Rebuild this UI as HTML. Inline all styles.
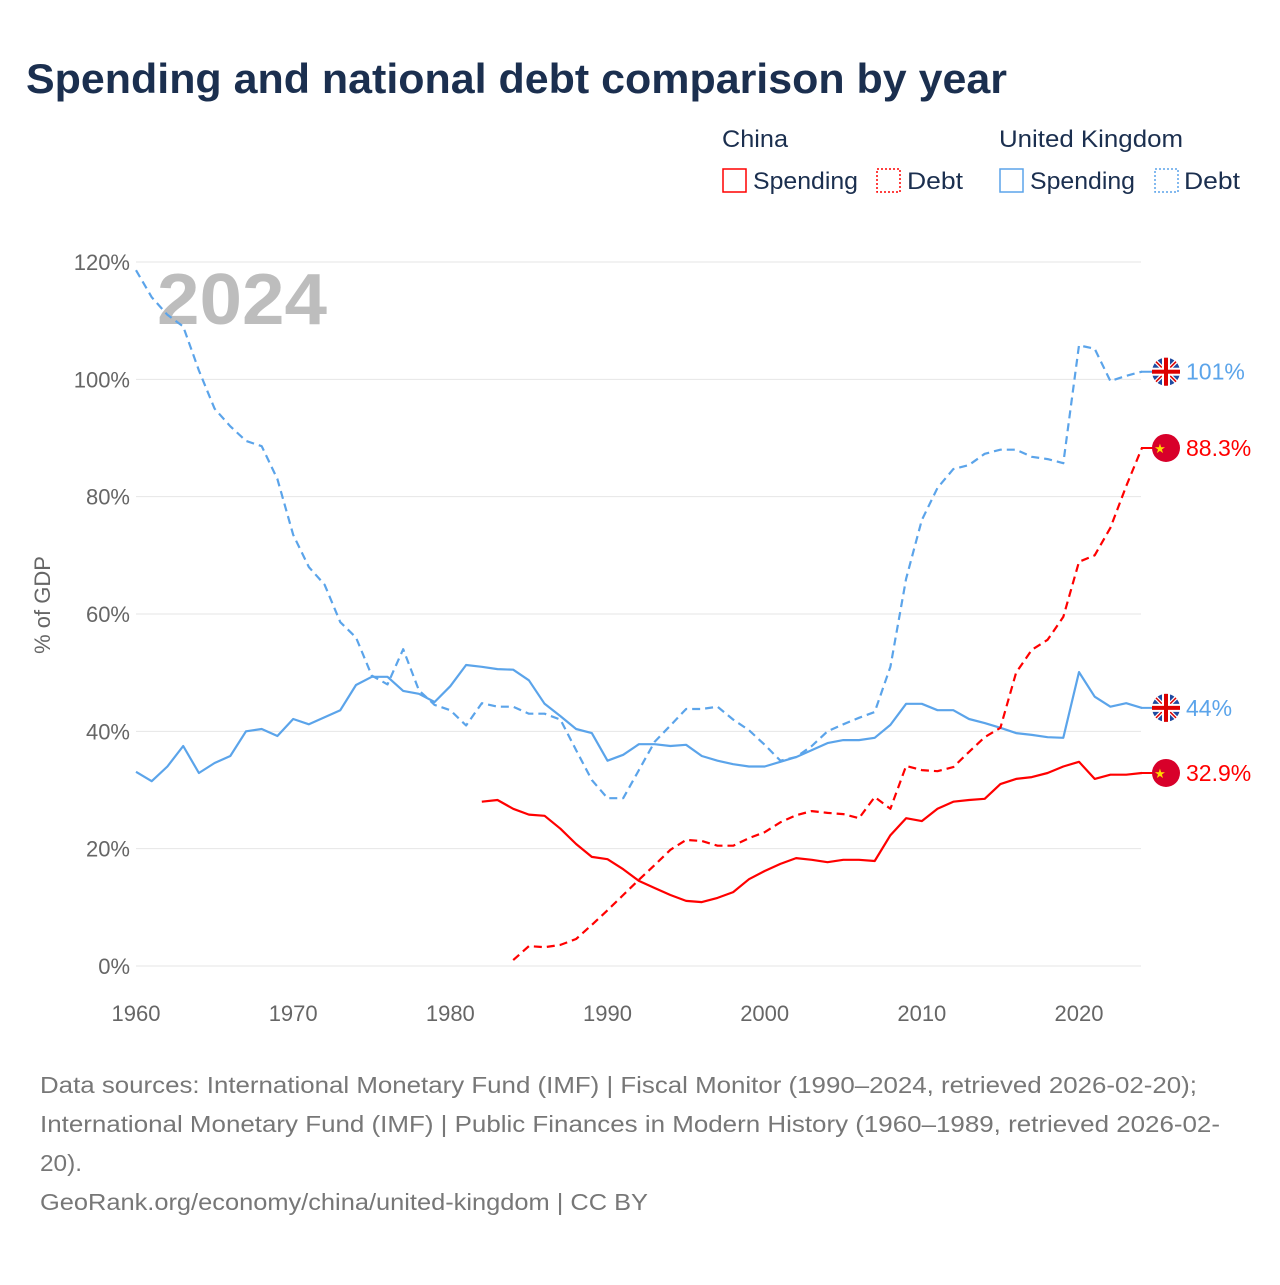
<!DOCTYPE html>
<html><head><meta charset="utf-8"><style>
body{margin:0;background:#fff;font-family:"Liberation Sans",sans-serif;}
svg text{font-family:"Liberation Sans",sans-serif;}
</style></head><body>
<svg id="chart" width="1280" height="1280" viewBox="0 0 1280 1280">
<text x="26" y="93" font-size="42" font-weight="bold" fill="#1b2f4f" textLength="981" lengthAdjust="spacingAndGlyphs">Spending and national debt comparison by year</text>
<g>
<text x="722" y="147" font-size="24" fill="#1b2f4f" textLength="66" lengthAdjust="spacingAndGlyphs">China</text>
<text x="999" y="147" font-size="24" fill="#1b2f4f" textLength="184" lengthAdjust="spacingAndGlyphs">United Kingdom</text>
<g><rect x="723" y="169" width="23" height="23" fill="none" stroke="#f00" stroke-width="1.5"/><text x="753" y="189" font-size="24" fill="#1b2f4f" textLength="105" lengthAdjust="spacingAndGlyphs">Spending</text></g>
<g><rect x="877" y="169" width="23" height="23" fill="none" stroke="#f00" stroke-width="1.5" stroke-dasharray="2,2"/><text x="907" y="189" font-size="24" fill="#1b2f4f" textLength="56" lengthAdjust="spacingAndGlyphs">Debt</text></g>
<g><rect x="1000" y="169" width="23" height="23" fill="none" stroke="#5ba4ea" stroke-width="1.5"/><text x="1030" y="189" font-size="24" fill="#1b2f4f" textLength="105" lengthAdjust="spacingAndGlyphs">Spending</text></g>
<g><rect x="1155" y="169" width="23" height="23" fill="none" stroke="#5ba4ea" stroke-width="1.5" stroke-dasharray="2,2"/><text x="1184" y="189" font-size="24" fill="#1b2f4f" textLength="56" lengthAdjust="spacingAndGlyphs">Debt</text></g>
</g>
<text x="157" y="324" font-size="72" font-weight="bold" fill="#bdbdbd" textLength="170" lengthAdjust="spacingAndGlyphs">2024</text>
<text transform="translate(50,605) rotate(-90)" font-size="22" fill="#666" text-anchor="middle">% of GDP</text>
<g id="grid"></g><g id="series"></g><g id="ends"></g>
<g font-size="23" fill="#777">
<text x="40" y="1093" textLength="1157" lengthAdjust="spacingAndGlyphs">Data sources: International Monetary Fund (IMF) | Fiscal Monitor (1990–2024, retrieved 2026-02-20);</text>
<text x="40" y="1132" textLength="1180" lengthAdjust="spacingAndGlyphs">International Monetary Fund (IMF) | Public Finances in Modern History (1960–1989, retrieved 2026-02-</text>
<text x="40" y="1171" textLength="42" lengthAdjust="spacingAndGlyphs">20).</text>
<text x="40" y="1210" textLength="608" lengthAdjust="spacingAndGlyphs">GeoRank.org/economy/china/united-kingdom | CC BY</text>
</g>
</svg>
<script>
const yTicks=[0,20,40,60,80,100,120];
const xTicks=[1960,1970,1980,1990,2000,2010,2020];
const ukDebtStart=1960;
const ukDebt=[118.6,114,111,109,101.5,95,92,89.5,88.6,83,73.5,68,65,58.6,56,49.5,48,54,47,44.5,43.6,41,44.8,44.2,44.2,43,43,42,36.8,31.7,28.6,28.6,33.4,38.2,41,43.8,43.8,44.2,42,40.2,37.7,35,35.6,37.5,40,41.2,42.3,43.3,51,66,76,81.5,84.7,85.4,87.3,88,88,86.8,86.4,85.7,105.8,105.2,99.7,100.6,101.3];
const ukSpendStart=1960;
const ukSpend=[33.1,31.5,34,37.5,32.9,34.6,35.8,40,40.4,39.2,42.1,41.2,42.4,43.6,47.9,49.3,49.3,46.9,46.4,45,47.7,51.3,51,50.6,50.5,48.7,44.7,42.6,40.4,39.7,35,36,37.8,37.8,37.5,37.7,35.8,35,34.4,34,34,34.8,35.6,36.8,38,38.5,38.5,38.9,41.1,44.7,44.7,43.6,43.6,42.1,41.4,40.6,39.7,39.4,39,38.9,50.1,45.9,44.2,44.8,44];
const cnSpendStart=1982;
const cnSpend=[28,28.3,26.8,25.8,25.6,23.4,20.8,18.6,18.2,16.5,14.5,13.3,12.1,11.1,10.9,11.6,12.6,14.8,16.2,17.4,18.4,18.1,17.7,18.1,18.1,17.9,22.3,25.2,24.7,26.8,28,28.3,28.5,31,31.9,32.2,32.9,34,34.8,31.9,32.6,32.6,32.9];
const cnDebtStart=1984;
const cnDebt=[1,3.4,3.2,3.6,4.6,7,9.5,12.1,14.7,17.2,19.8,21.5,21.3,20.5,20.5,21.8,22.8,24.5,25.7,26.4,26.1,25.9,25.2,28.8,26.8,34.1,33.4,33.2,33.9,36.5,39,40.6,50,53.9,55.6,59.5,68.9,70,74.7,81.8,88.3];
const endLabels=["101%","88.3%","44%","32.9%"];
const NS="http://www.w3.org/2000/svg";
const X=yr=>136+(yr-1960)*(1079-136)/60;
const Y=v=>966-v*(966-262)/120;
function mk(t,a,p){const e=document.createElementNS(NS,t);for(const k in a)e.setAttribute(k,a[k]);p.appendChild(e);return e;}
const grid=document.getElementById('grid');
yTicks.forEach(v=>{
 const l=mk('line',{x1:136,x2:1141,y1:Y(v),y2:Y(v),stroke:'#e6e6e6','stroke-width':1},grid);
 
 
 const t=mk('text',{x:130,y:Y(v)+8,'font-size':22,fill:'#666','text-anchor':'end'},grid);
 t.textContent=v+'%';
 
 
});
xTicks.forEach(v=>{
 const t=mk('text',{x:X(v),y:1021,'font-size':22,fill:'#666','text-anchor':'middle'},grid);
 t.textContent=v;
 
 
});
const ser=document.getElementById('series');
function line(arr,start,color,dash,name){
 const d=arr.map((v,i)=>(i?'L':'M')+X(start+i).toFixed(1)+','+Y(v).toFixed(1)).join('');
 const p=mk('path',{d:d,fill:'none',stroke:color,'stroke-width':2.2,'stroke-linejoin':'round'},ser);
 if(dash)p.setAttribute('stroke-dasharray','8,5');
 
 
}
const BL='#5ba4ea',RD='#f00';
line(ukDebt,ukDebtStart,BL,true,'uk-debt-line');
line(ukSpend,ukSpendStart,BL,false,'uk-spending-line');
line(cnDebt,cnDebtStart,RD,true,'china-debt-line');
line(cnSpend,cnSpendStart,RD,false,'china-spending-line');
const ends=document.getElementById('ends');
const ex=1166;
const endVals=[[ukDebt[ukDebt.length-1],'uk',BL],[cnDebt[cnDebt.length-1],'cn',RD],[ukSpend[ukSpend.length-1],'uk',BL],[cnSpend[cnSpend.length-1],'cn',RD]];
endVals.forEach((e,i)=>{
 const y=Y(e[0]);
 const g=mk('g',{},ends);
 
 
 mk('line',{x1:1141,x2:ex,y1:y,y2:y,stroke:e[2],'stroke-width':2},g);
 if(e[1]==='uk'){
  mk('circle',{cx:ex,cy:y,r:14,fill:'#1f4aa0'},g);
  mk('line',{x1:ex-10,y1:y-10,x2:ex+10,y2:y+10,stroke:'#fff','stroke-width':4},g);
  mk('line',{x1:ex-10,y1:y+10,x2:ex+10,y2:y-10,stroke:'#fff','stroke-width':4},g);
  mk('line',{x1:ex-10,y1:y-10,x2:ex+10,y2:y+10,stroke:'#d00','stroke-width':1.5},g);
  mk('line',{x1:ex-10,y1:y+10,x2:ex+10,y2:y-10,stroke:'#d00','stroke-width':1.5},g);
  mk('rect',{x:ex-14,y:y-4,width:28,height:8,fill:'#fff'},g);
  mk('rect',{x:ex-4,y:y-14,width:8,height:28,fill:'#fff'},g);
  mk('rect',{x:ex-14,y:y-2,width:28,height:4,fill:'#d00'},g);
  mk('rect',{x:ex-2,y:y-14,width:4,height:28,fill:'#d00'},g);
 } else {
  mk('circle',{cx:ex,cy:y,r:14,fill:'#d8002a'},g);
  const s=mk('text',{x:ex-6,y:y+5,'font-size':13,fill:'#ffd700','text-anchor':'middle'},g);s.textContent='★';
 }
 const t=mk('text',{x:ex+20,y:y+8,'font-size':23,fill:e[2]},g);
 t.textContent=endLabels[i];
});
</script>
</body></html>
